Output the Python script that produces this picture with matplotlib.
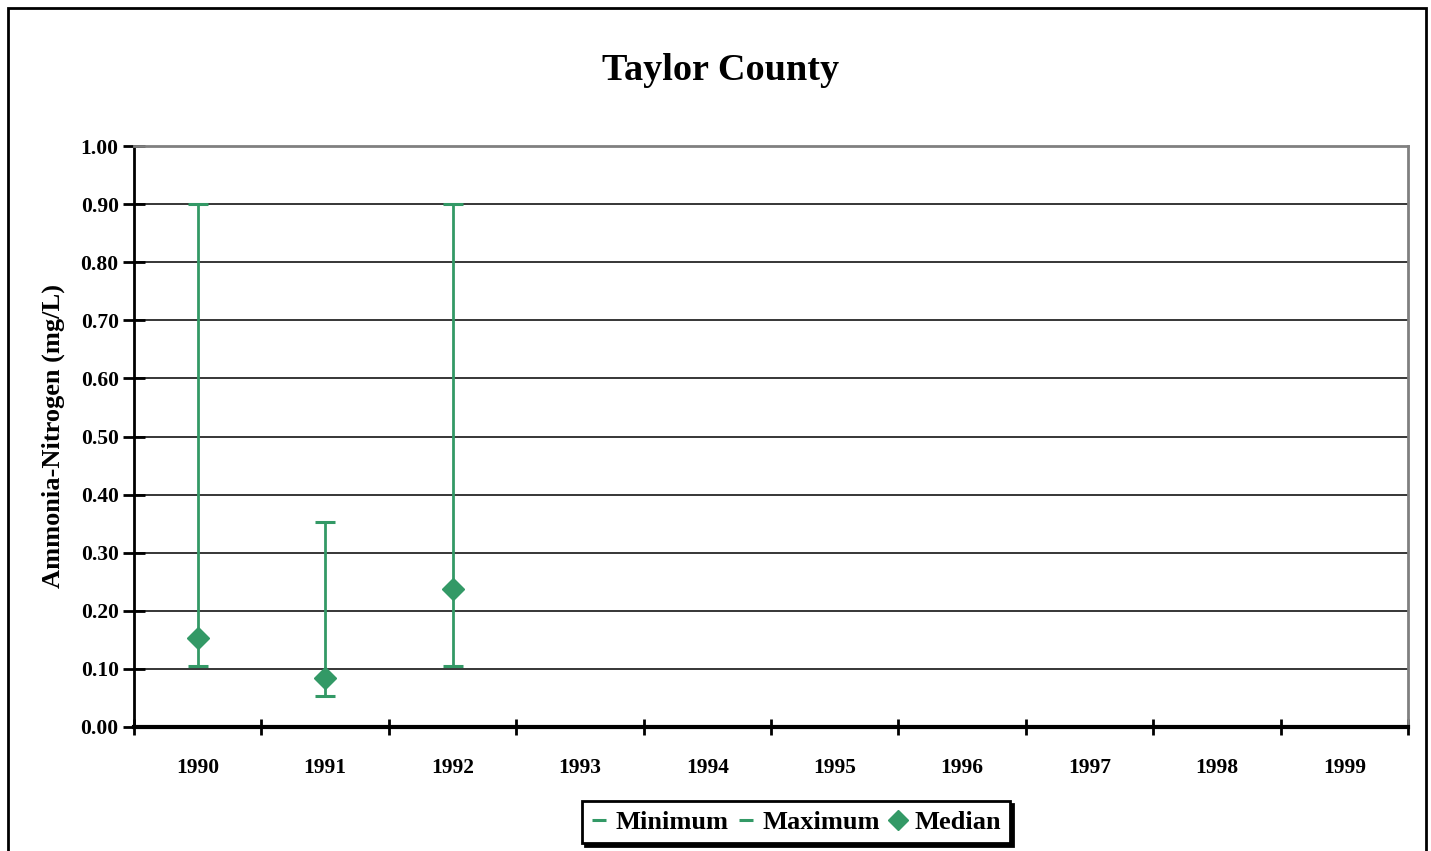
import matplotlib
matplotlib.use("Agg")
import matplotlib.pyplot as plt
from matplotlib.lines import Line2D
from matplotlib.patches import Rectangle

years = ["1990", "1991", "1992", "1993", "1994", "1995", "1996", "1997", "1998", "1999"]
minimum = [0.105, 0.053, 0.105, None, None, None, None, None, None, None]
maximum = [0.90, 0.353, 0.90, None, None, None, None, None, None, None]
median = [0.153, 0.084, 0.238, None, None, None, None, None, None, None]
yticks = [0.0, 0.1, 0.2, 0.3, 0.4, 0.5, 0.6, 0.7, 0.8, 0.9, 1.0]

GREEN = "#339966"
plt.rcParams['font.family'] = ['Liberation Serif', 'DejaVu Serif']
plt.rcParams['font.weight'] = 'bold'

fig = plt.figure(figsize=(14.31, 8.51), dpi=100)
ax = fig.add_axes([134/1431, 1-727/851, (1408-134)/1431, (727-146)/851])

x = list(range(len(years)))
for i in x:
    if maximum[i] is None:
        continue
    ax.vlines(i, minimum[i], maximum[i], color=GREEN, lw=2, zorder=3)
    ax.plot([i, i], [minimum[i], maximum[i]], ls='none', marker='_', ms=14,
            mew=2.2, color=GREEN, zorder=3)
    ax.plot(i, median[i], ls='none', marker='D', ms=11, color=GREEN,
            mec=GREEN, zorder=4)

ax.set_xlim(-0.5, len(years) - 0.5)
ax.set_ylim(0, 1.0)
ax.set_yticks(yticks)
ax.set_yticklabels([f"{v:.2f}" for v in yticks], fontsize=15.5, fontweight='bold')
ax.yaxis.grid(True, color='black', lw=1.1)
ax.set_axisbelow(True)

ax.set_xticks([i - 0.5 for i in range(len(years) + 1)])
ax.set_xticklabels([])
ax.set_xticks(x, minor=True)
ax.set_xticklabels(years, minor=True, fontsize=15.5, fontweight='bold')
ax.tick_params(axis='x', which='minor', length=0, pad=22)
ax.tick_params(axis='x', which='major', direction='inout', length=12, width=2)
ax.tick_params(axis='y', direction='inout', length=16, width=2, pad=3)

ax.spines['top'].set_color('#808080')
ax.spines['right'].set_color('#808080')
ax.spines['top'].set_linewidth(2)
ax.spines['right'].set_linewidth(2)
ax.spines['left'].set_linewidth(2)
ax.spines['bottom'].set_linewidth(3)

ax.set_ylabel("Ammonia-Nitrogen (mg/L)", fontsize=19, fontweight='bold', labelpad=11)
fig.text(721/1431, 1-71/851, "Taylor County", ha='center', va='center',
         fontsize=27.5, fontweight='bold')

handles = [
    Line2D([], [], ls='none', marker='_', ms=10, mew=2.2, color=GREEN),
    Line2D([], [], ls='none', marker='_', ms=10, mew=2.2, color=GREEN),
    Line2D([], [], ls='none', marker='D', ms=10, color=GREEN),
]
leg = fig.legend(handles, ["Minimum", "Maximum", "Median"], loc='center',
                 bbox_to_anchor=(796/1431, 1-822/851), ncol=3, frameon=True,
                 fancybox=False, shadow={'color': 'black', 'alpha': 1},
                 prop={'size': 19, 'weight': 'bold'}, handlelength=0.6,
                 handletextpad=0.3, columnspacing=0.4, borderpad=0.35,
                 borderaxespad=0)
leg.get_frame().set_edgecolor('black')
leg.get_frame().set_linewidth(2)

fig.patches.append(Rectangle((8/1431, -0.05), (1426-8)/1431, 1.05 - 8/851,
                             transform=fig.transFigure, fill=False,
                             edgecolor='black', lw=2, zorder=0))

fig.savefig("out.png", dpi=100)
